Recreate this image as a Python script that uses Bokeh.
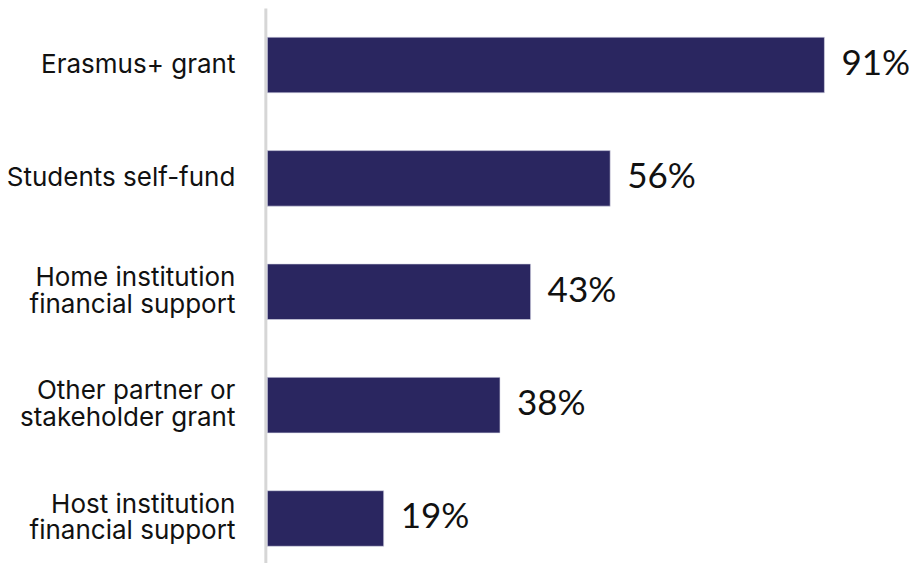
from bokeh.plotting import figure
from bokeh.models import Range1d, ColumnDataSource
from bokeh.core.properties import value
from bokeh.embed import file_html
from bokeh.resources import INLINE

categories = ["Erasmus+ grant", "Students self-fund", "Home institution\nfinancial support",
              "Other partner or\nstakeholder grant", "Host institution\nfinancial support"]
values = [91, 56, 43, 38, 19]
value_labels = ["91%", "56%", "43%", "38%", "19%"]

ypos = [5, 4, 3, 2, 1]
src = ColumnDataSource(dict(y=ypos, v=values, cat=categories, lab=value_labels, zero=[0]*5))

p = figure(width=909, height=563, output_backend="svg", toolbar_location=None,
           x_range=Range1d(-43.6, 104.9), y_range=Range1d(0.603, 5.569),
           min_border_left=0, min_border_right=0, min_border_top=0, min_border_bottom=0)
p.xaxis.visible = False
p.yaxis.visible = False
p.xgrid.visible = False
p.ygrid.visible = False
p.outline_line_color = None

p.segment(x0=[-0.25], y0=[5.498], x1=[-0.25], y1=[0.5], line_color="#d6d6d6", line_width=3)

p.hbar(y="y", left=0, right="v", height=0.49, source=src, fill_color="#2a2660", line_color="#d8d8e6", line_width=0.6)

p.text(x="zero", y="y", text="cat", source=src, x_offset=-32, y_offset=-2, text_align="right", text_baseline="middle",
       text_font=value("Inter"), text_font_size="26px", text_color="#111111", text_line_height=0.87)

p.text(x="v", y="y", text="lab", source=src, x_offset=17, y_offset=-4, text_align="left", text_baseline="middle",
       text_font=value("Lato"), text_font_size="35px", text_color="#111111")

open("out.html", "w").write(file_html(p, INLINE))
